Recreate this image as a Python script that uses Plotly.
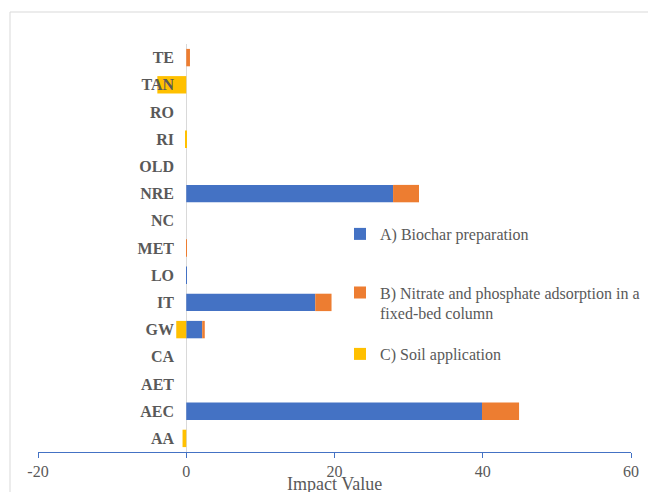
import plotly.graph_objects as go

# Impact categories, listed bottom to top
categories = ["AA", "AEC", "AET", "CA", "GW", "IT", "LO", "MET",
              "NC", "NRE", "OLD", "RI", "RO", "TAN", "TE"]

biochar_prep = [0, 39.9, 0, 0, 2.15, 17.4, 0.02, 0, 0, 27.9, 0, 0, 0, 0, 0]
adsorption = [0, 5.0, 0, 0, 0.35, 2.2, 0, 0.01, 0, 3.5, 0, 0, 0, 0, 0.5]
soil_application = [-0.5, 0, 0, 0, -1.35, 0, 0, 0, 0, 0, 0, -0.05, 0, -3.9, 0]

series_names = [
    "A) Biochar preparation",
    "B) Nitrate and phosphate adsorption in a<br>fixed-bed column",
    "C) Soil application",
]
series_colors = ["#4472C4", "#ED7D31", "#FFC000"]
legend_ids = ["legend", "legend2", "legend3"]
legend_centers_px = [234, 303, 354]

x_ticks = [-20, 0, 20, 40, 60]

TEXT = "#595959"
FONT = "Liberation Serif, Times New Roman, serif"

fig = go.Figure()
for name, vals, col, lg in zip(series_names,
                               [biochar_prep, adsorption, soil_application],
                               series_colors, legend_ids):
    fig.add_trace(go.Bar(
        y=categories, x=vals, name=name, orientation="h",
        marker=dict(color=col, line=dict(width=0)),
        legend=lg,
    ))

W, H = 648, 492
L, R, T, B = 38, 17, 44, 40
pw, ph = W - L - R, H - T - B


def legend_box(center_px):
    return dict(
        x=(340 - L) / pw, y=(H - B - center_px) / ph,
        xanchor="left", yanchor="middle",
        valign="top",
        font=dict(family=FONT, size=16, color=TEXT),
        bgcolor="rgba(0,0,0,0)",
        itemwidth=30,
    )


fig.update_layout(
    width=W, height=H,
    margin=dict(l=L, r=R, t=T, b=B, autoexpand=False),
    barmode="relative",
    bargap=0.36,
    paper_bgcolor="white",
    plot_bgcolor="white",
    font=dict(family=FONT, color=TEXT, size=16),
    showlegend=True,
    legend=legend_box(legend_centers_px[0]),
    legend2=legend_box(legend_centers_px[1]),
    legend3=legend_box(legend_centers_px[2]),
    xaxis=dict(
        range=[-20, 60],
        tickvals=x_ticks,
        ticktext=[str(v) for v in x_ticks],
        showgrid=False,
        zeroline=True, zerolinecolor="#D9D9D9", zerolinewidth=1,
        showline=True, linecolor="#4472C4", linewidth=1,
        ticks="outside", ticklen=5, tickcolor="#4472C4", tickwidth=1,
        tickfont=dict(family=FONT, size=16, color=TEXT),
    ),
    yaxis=dict(
        categoryorder="array", categoryarray=categories,
        anchor="free", position=(186 - L) / pw,
        showgrid=False, zeroline=False, showline=False,
        ticks="", ticklabelstandoff=12,
        tickfont=dict(family=FONT, size=16, color=TEXT),
        tickprefix="<b>", ticksuffix="</b>",
    ),
    shapes=[dict(
        type="rect", xref="paper", yref="paper",
        x0=(10 - L) / pw, x1=(W + 5 - L) / pw,
        y0=(H - B - (H + 5)) / ph, y1=(H - B - 12) / ph,
        line=dict(color="#D9D9D9", width=1), fillcolor="rgba(0,0,0,0)",
        layer="below",
    )],
    annotations=[dict(
        text="Impact Value", xref="paper", yref="paper",
        x=(334 - L) / pw, y=(H - B - 484) / ph,
        xanchor="center", yanchor="middle", showarrow=False,
        font=dict(family=FONT, size=18, color=TEXT),
    )],
)

fig.write_html("out.html")
